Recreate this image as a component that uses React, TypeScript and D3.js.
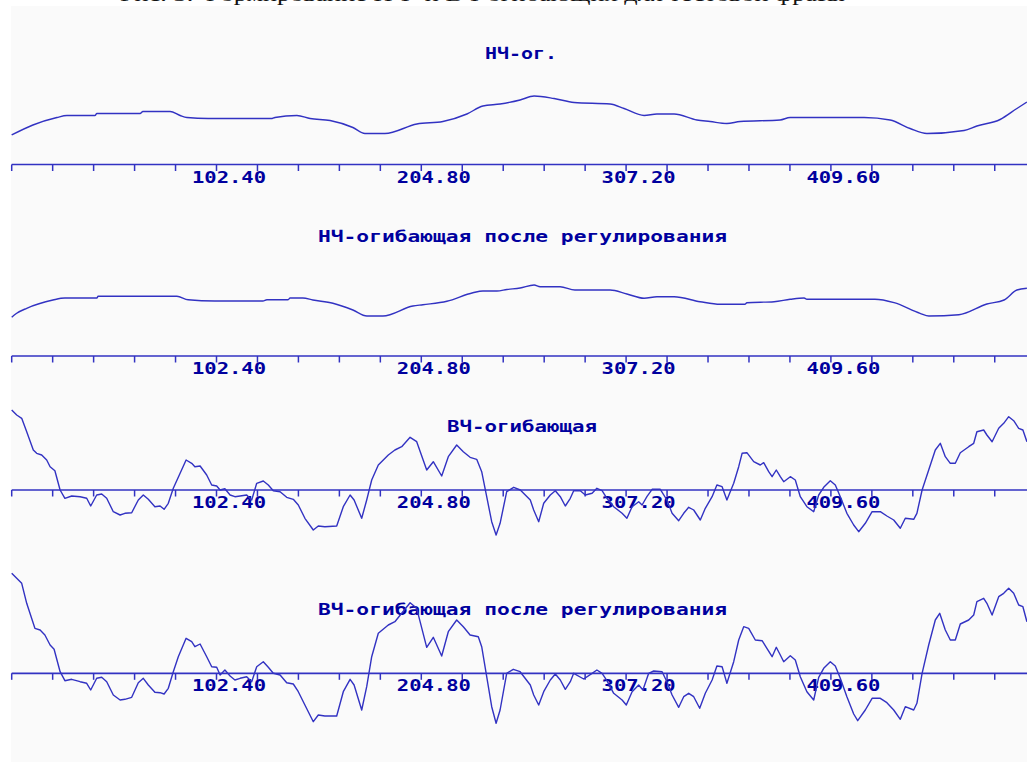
import React from "react";
import * as d3 from "d3";

// Time axis: tick step and labelled values
const tickStep = 20.48;
const labelValues = [102.4, 204.8, 307.2, 409.6];
const tickLabels = ["102.40", "204.80", "307.20", "409.60"];

const figureCaption = "Рис. 3. Формирование НЧ- и ВЧ-огибающих для тестовой фразы";
const panelTitles = [
  "НЧ-ог.",
  "НЧ-огибающая после регулирования",
  "ВЧ-огибающая",
  "ВЧ-огибающая после регулирования",
];

// LF envelope (original)
const lfT = [0, 10.6, 22.6, 27.6, 41.6, 42.6, 64.2, 65.6, 79.2, 84.2, 87.6, 98.2, 130.2, 131.6, 142.6, 149.2, 159.2, 170.6, 176.6, 186.6, 202.6, 215.6, 227.6, 235.6, 244.2, 254.2, 261.2, 271.2, 281.2, 299.2, 306.2, 316.2, 322.6, 331.2, 342.6, 349.2, 357.6, 364.2, 384.2, 389.2, 401.2, 409.2, 426.2, 439.2, 449.2, 457.6, 476.2, 482.6, 494.2, 502.6, 507.6];
const lfV = [29.5, 39.5, 47, 49, 49, 51, 51, 53, 53, 49, 47, 46, 46, 47, 49, 46, 44, 37, 31, 31, 40.5, 43, 50.5, 58.5, 60.5, 64.5, 68.5, 66, 62, 60.5, 56, 49, 50.5, 50.5, 44.5, 43, 41, 43, 44.5, 47, 47, 47, 47, 44.5, 36, 31, 34, 38.5, 45, 56, 62.5];

// LF envelope after regulation
const lfRegT = [0, 2.5, 7.5, 20.6, 26.6, 42.6, 43.2, 82.6, 88.2, 101.6, 125.6, 127.6, 138.2, 139.2, 145.6, 150.6, 160.6, 170.6, 177.6, 185.6, 200.6, 205.6, 217.6, 230.6, 235.6, 242.6, 247.6, 254.2, 261.2, 264.2, 274.2, 281.6, 299.2, 307.6, 316.2, 322.6, 331.2, 344.2, 354.2, 366.6, 367.6, 381.2, 389.2, 396.2, 397.6, 431.6, 441.2, 454.2, 458.6, 473.6, 487.6, 496.2, 502.6, 507.6];
const lfRegV = [38.7, 42.7, 47.7, 56, 58, 58, 59.7, 59.7, 56.3, 55, 55, 56.3, 56.3, 58, 58, 56, 52.7, 46, 40, 40, 50, 51.3, 54.7, 63.3, 65, 65, 66.5, 68, 71, 69.3, 69.3, 66, 66, 62, 57.7, 59.3, 59.3, 54.3, 51.7, 51.7, 53.3, 54.3, 56.7, 58, 56.7, 56.7, 53.3, 42.7, 40, 41.3, 52, 56, 66, 67.7];

// HF envelope (original)
const hfT = [0, 2.5, 5, 7.5, 10.8, 12.5, 15, 17.5, 19.2, 21.6, 24.2, 26.6, 30, 34.2, 37.5, 39.5, 42.5, 45, 47.5, 50.8, 54.2, 56.6, 60, 63.3, 65.8, 68.3, 71.6, 74.2, 76.2, 78.3, 80.8, 84.2, 87.2, 90, 91.6, 94.2, 97.5, 100, 102.5, 104.2, 106.6, 109.2, 111.6, 114.2, 117.5, 120, 122.5, 125.8, 128.3, 130.8, 134.2, 137.5, 140.8, 143.3, 146.6, 150.8, 153.3, 156.6, 162.5, 165.8, 169.2, 171.2, 175, 177.5, 180, 183.3, 188.3, 191.6, 195, 199.2, 202.5, 207.5, 210.8, 215, 218.3, 222.5, 225.8, 229.2, 232.5, 235, 237.5, 240, 242.2, 244.2, 247.5, 251, 254.3, 259.3, 261, 263.5, 266, 269.3, 271.8, 274.3, 276.8, 279.3, 281, 284.3, 286.8, 290.2, 292.6, 295.2, 297.6, 301, 305.2, 307.6, 310.2, 313.5, 315.2, 317.6, 320.2, 324.3, 327.6, 330.2, 333.5, 336, 338.5, 341, 344.3, 346.8, 350.2, 352.6, 355.2, 357.6, 361, 363.5, 365.2, 367.6, 371, 374.3, 376, 378.5, 380.2, 382.3, 384.3, 386, 389.3, 391.8, 394.3, 397.6, 401, 403.5, 406, 409.3, 411.8, 414.3, 417.6, 421, 423.5, 426.8, 430.2, 434.3, 437.6, 441, 444.3, 446.8, 451, 452.6, 455.2, 458.5, 461.8, 464.3, 466.8, 469.3, 471.8, 474.3, 478.5, 481, 482.6, 486, 487.6, 490.2, 493.5, 496, 498.5, 501, 503.5, 505.6, 507.6];
const hfV = [80, 75, 71.7, 58.3, 40, 36.7, 35, 30, 23.3, 19.3, 0, -8.3, -6, -6.7, -8.3, -16, -5, -4, -8.3, -21.7, -25, -23.3, -22.7, -10, -5, -9.3, -16.7, -16, -19.3, -13.3, 1.7, 16.7, 30, 26.7, 23.3, 24, 15, 5, 4, 0, 1.3, -5, -6.7, -6, -5, -10, 6.7, 9, 5, -0.7, -1.7, -7.3, -9.3, -15, -28.3, -40, -36, -36.7, -36, -16.7, -5, -10, -28.3, -10, 10, 25, 35, 40, 43.3, 52.7, 48.3, 20, 28.3, 14, 33.3, 45, 38.3, 32.7, 30.7, 18.3, -6.7, -31.7, -45, -33.3, -1.7, 2.7, 0, -10, -20, -31.7, -13.3, -5, -0.7, -6.7, -16, -8.3, -0.7, -0.7, -5, -3.3, 1.7, -0.7, -8.3, -16.7, -23.3, -28.3, -16.7, -11.7, -15, -6.7, 0.7, 0.7, -10, -23.3, -30.7, -23.3, -17.3, -20, -30, -18.3, -6.7, 5, 3.3, -10, 6.7, 23.3, 36.7, 37.3, 28.3, 25, 27.3, 18.3, 13.3, 20, 13.3, 8.3, 13.3, 10, -6.7, -16.7, -21.7, -5, 2.7, 9.3, 5, -6.7, -23.3, -35, -41.7, -33.3, -21.7, -21.7, -26, -30, -38.3, -28.3, -29.3, -23.3, 0, 20, 40, 46.7, 33.3, 26.7, 26.7, 37.3, 43.3, 46.7, 58.3, 60, 55, 48.3, 61.7, 66.7, 73.3, 69.3, 61.7, 60, 48.3];

// HF envelope after regulation
const hfRegT = [0, 2.5, 5, 7.5, 11.6, 14.2, 16.6, 19.2, 21.2, 24.2, 26.6, 30, 34.2, 37.5, 39.5, 42.5, 45, 47.5, 50.8, 54.2, 56.6, 60, 63.3, 65.8, 68.3, 71.6, 74.2, 76.2, 78.3, 80.8, 83.3, 87.2, 90, 91.6, 94.2, 97.5, 100, 102.5, 104.2, 106.6, 109.2, 111.6, 114.2, 117.5, 120, 122.5, 125.8, 128.3, 130.8, 134.2, 137.5, 140.8, 143.3, 146.6, 150.8, 153.3, 156.6, 162.5, 165.8, 169.2, 171.2, 175, 177.5, 180, 183.3, 188.3, 191.6, 195, 199.2, 202.5, 207.5, 210.8, 215, 218.3, 222.5, 225.8, 229.2, 233.3, 235, 237.5, 240, 242.2, 244.2, 247.5, 250.8, 254.2, 259.3, 261, 263.5, 266, 269.3, 271.8, 274.3, 276.8, 279.3, 281, 286, 290.2, 292.6, 295.2, 297.6, 301, 305.2, 307.3, 310.2, 313.5, 315.6, 318.5, 321, 325.2, 327.6, 330.2, 333.5, 336, 338.5, 341, 344, 346.8, 350.2, 352.6, 355.2, 357.6, 361, 363.5, 366, 368.5, 371.8, 375.2, 377.6, 380.2, 382.3, 384.3, 386, 389.3, 391.8, 394.3, 397.6, 401, 403.5, 406, 409.3, 411.8, 414.3, 417.6, 421, 423, 426.8, 430.2, 434.3, 437.6, 441, 444.3, 446.8, 451, 452.6, 455.2, 458.5, 461.8, 464, 466.8, 469.3, 471.8, 474.3, 478.5, 481, 482.6, 486, 487.6, 490.2, 493.5, 496, 498.5, 501, 503.5, 505.6, 507.6];
const hfRegV = [100, 95, 90, 70, 45, 43.3, 38.3, 28.3, 24, 1.6, -7.4, -6, -8.4, -10, -16.7, -5, -4, -8.4, -21.7, -26.7, -26, -24, -9.4, -5, -11.7, -19, -19.4, -20.7, -15, 1.6, 16.6, 35, 31.6, 26.6, 29.3, 16.6, 6.6, 6, -1.7, 3.3, -2.7, -6.7, -5, -3.4, -8.4, 6.6, 11.6, 6, 0, -1.7, -9.4, -10.7, -18.4, -31.7, -48.4, -41.7, -42.7, -42.7, -18.4, -6, -11.7, -36.7, -13.4, 16.6, 40, 48.3, 51.6, 60, 70.6, 65, 26, 36, 17.3, 41.6, 53.3, 46.6, 38.3, 36.6, 26.6, -3.4, -33.4, -50, -36.7, 0, 4, 1.6, -11.7, -21.7, -31.7, -18.4, -6.7, -0.7, -6.7, -16, -8.4, 0, -5.7, 0, 3.3, 0, -7.4, -20, -26.7, -31.7, -18.4, -11.7, -16.7, 0, 2.3, 1.6, -8.4, -21.7, -34, -23.4, -20, -23.4, -35, -20, -6.7, 7.3, 6.6, -10, 11.6, 33.3, 46.6, 45, 33.3, 32.6, 25, 16.6, 26, 18.3, 11.6, 17.6, 13.3, -3.4, -18.4, -26.7, -4, 5, 11.6, 7.3, -5, -23.4, -40.7, -47.4, -36.7, -25, -25, -29.4, -36.7, -46, -33.4, -36.7, -30, 0, 28.3, 53.3, 60, 43.3, 33.3, 33.3, 49.3, 53.3, 58.3, 71.6, 75, 70, 58.3, 76.6, 80, 85, 80, 68.3, 66.6, 51.6];

const W = 1027;
const H = 762;
const LINE = "#3232c2";
const INK = "#00009e";
const MONO = "'DejaVu Sans Mono', 'Liberation Mono', monospace";

const panels = [
  { title: panelTitles[0], t: lfT, v: lfV, axisY: 164.5, titleY: 59, titleX: 485, titleW: 72, curve: d3.curveMonotoneX },
  { title: panelTitles[1], t: lfRegT, v: lfRegV, axisY: 356, titleY: 242, titleX: 318, titleW: 409, curve: d3.curveMonotoneX },
  { title: panelTitles[2], t: hfT, v: hfV, axisY: 490, titleY: 432, titleX: 447, titleW: 150, curve: d3.curveLinear },
  { title: panelTitles[3], t: hfRegT, v: hfRegV, axisY: 673.3, titleY: 615, titleX: 318, titleW: 409, curve: d3.curveLinear },
];

export default function App() {
  const x = d3.scaleLinear().domain([0, 507.65]).range([11.7, W]);
  const ticks = d3.range(0, 500, tickStep);

  return (
    <svg
      width={W}
      height={H}
      style={{ position: "absolute", left: 0, top: 0, display: "block", background: "#ffffff" }}
    >
      <rect x={11} y={6} width={W - 11} height={H - 6} fill="#fafafa" />
      <text
        x={120}
        y={0.5}
        textLength={725}
        lengthAdjust="spacingAndGlyphs"
        fontFamily="'Liberation Serif', 'Times New Roman', serif"
        fontSize={19}
        fill="#111"
      >
        {figureCaption}
      </text>
      {panels.map((p, i) => {
        const y = d3.scaleLinear().domain([0, 100]).range([p.axisY, p.axisY - 100]);
        const pts: [number, number][] = p.t.map((t, k) => [t, p.v[k]]);
        const line = d3
          .line<[number, number]>()
          .x((d) => x(d[0]))
          .y((d) => y(d[1]))
          .curve(p.curve);
        return (
          <g key={i}>
            <text
              x={p.titleX}
              y={p.titleY}
              textLength={p.titleW}
              lengthAdjust="spacingAndGlyphs"
              fontFamily={MONO}
              fontWeight="bold"
              fontSize={15}
              fill={INK}
            >
              {p.title}
            </text>
            <line x1={x(0)} x2={W} y1={y(0)} y2={y(0)} stroke={LINE} strokeWidth={1.7} />
            {ticks.map((t) => (
              <line
                key={t}
                x1={x(t)}
                x2={x(t)}
                y1={y(0)}
                y2={y(0) + 6.5}
                stroke={LINE}
                strokeWidth={1.5}
              />
            ))}
            {labelValues.map((lv, j) => (
              <text
                key={lv}
                x={x(lv) + 12.5}
                y={y(0) + 18}
                textAnchor="middle"
                textLength={74}
                lengthAdjust="spacingAndGlyphs"
                fontFamily={MONO}
                fontWeight="bold"
                fontSize={16}
                fill={INK}
              >
                {tickLabels[j]}
              </text>
            ))}
            <path d={line(pts) || ""} fill="none" stroke={LINE} strokeWidth={1.4} strokeLinejoin="round" />
          </g>
        );
      })}
    </svg>
  );
}
